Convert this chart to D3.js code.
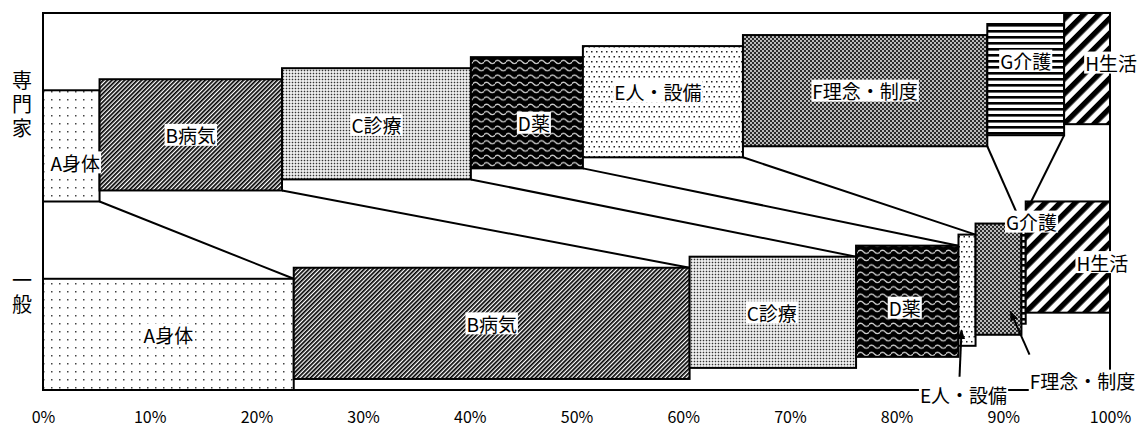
<!DOCTYPE html>
<html>
<head>
<meta charset="utf-8">
<script src="https://cdn.jsdelivr.net/npm/d3@7"></script>
<style>
  html, body { margin: 0; padding: 0; background: #fff; }
  svg { display: block; }
  text { font-family: "Noto Sans CJK JP", "Noto Sans", sans-serif; fill: #000; }
</style>
</head>
<body>
<svg id="chart" width="1140" height="427"></svg>
<script>
// ---- data -------------------------------------------------------------
const categories   = ["A身体", "B病気", "C診療", "D薬", "E人・設備", "F理念・制度", "G介護", "H生活"];
const groups       = ["専門家", "一般"];
const expertShares = [5.3, 17.1, 17.7, 10.5, 15.0, 22.9, 7.2, 4.3];   // %
const publicShares = [23.5, 37.1, 15.6, 9.6, 1.6, 4.3, 0.4, 7.9];     // %
const tickValues   = [0, 10, 20, 30, 40, 50, 60, 70, 80, 90, 100];

// ---- layout -----------------------------------------------------------
const x = d3.scaleLinear().domain([0, 100]).range([43, 1110]);
const y = d3.scaleLinear().domain([0, 100]).range([390, 13]);
const BAR = 29.5;          // block height (y units)
const STEP = 2.93;         // each successive block sits a little higher
const rowBase = { "専門家": 50, "一般": 0 };

// label nudges in px from the block centre (null = drawn as a callout)
const labelNudge = {
  "専門家": [[4, 16.5], [0, 0], [0, 1], [7, 10], [-5, -10], [0, 0], [0, -19], [24, -6]],
  "一般":   [[0, 0], [0, 0], [-1, 0], [-2.5, 6.5], null, null, [8, -46.5], [34.5, 5]]
};
// callouts for the two thin blocks of 一般 (offsets from block centre)
const callouts = {
  4: { label: [-3.5, 104.5], from: [-7.5, 86.5], to: [-5.5, 40] },
  5: { label: [84, 101.5], from: [31, 75.5], to: [12, 32.5] }
};

const svg = d3.select("#chart");
const defs = svg.append("defs");

// ---- fill patterns ----------------------------------------------------
function stripes(id, period, black, angle) {
  const p = defs.append("pattern").attr("id", id)
    .attr("patternUnits", "userSpaceOnUse")
    .attr("width", period).attr("height", period)
    .attr("patternTransform", `rotate(${angle})`);
  p.append("rect").attr("width", period).attr("height", period).attr("fill", "#fff");
  p.append("rect").attr("width", black).attr("height", period).attr("fill", "#000");
}
function dots(id, w, h, pts, size, color, bg) {
  const p = defs.append("pattern").attr("id", id)
    .attr("patternUnits", "userSpaceOnUse").attr("width", w).attr("height", h);
  p.append("rect").attr("width", w).attr("height", h).attr("fill", bg);
  pts.forEach(([px, py]) => p.append("rect")
    .attr("x", px).attr("y", py).attr("width", size).attr("height", size).attr("fill", color));
}

dots("pat0", 8, 8, [[3, 3]], 1.5, "#444", "#fff");                              // sparse dots
stripes("pat1", 3.0, 1.7, 45);                                                  // dense diagonal
dots("pat2", 3, 3, [[0.7, 0.7]], 1.6, "#333", "#fff");                          // fine dots
(function () {                                                                  // wave
  const p = defs.append("pattern").attr("id", "pat3")
    .attr("patternUnits", "userSpaceOnUse").attr("width", 11).attr("height", 7.3);
  p.append("rect").attr("width", 11).attr("height", 7.3).attr("fill", "#000");
  p.append("path").attr("d", "M-0.5,3.6 Q2.75,0.6 5.5,3.6 T11.5,3.6")
    .attr("fill", "none").attr("stroke", "#d0d0d0").attr("stroke-width", 1.3);
})();
dots("pat4", 10, 10, [[1, 1], [6, 1], [3.5, 6], [8.5, 6]], 1.5, "#222", "#fff"); // medium dots
(function () {                                                                  // dark diamond grid
  const p = defs.append("pattern").attr("id", "pat5")
    .attr("patternUnits", "userSpaceOnUse").attr("width", 4).attr("height", 4);
  p.append("rect").attr("width", 4).attr("height", 4).attr("fill", "#2a2a2a");
  p.append("circle").attr("cx", 1).attr("cy", 1).attr("r", 0.9).attr("fill", "#fff");
  p.append("circle").attr("cx", 3).attr("cy", 3).attr("r", 0.9).attr("fill", "#fff");
})();
stripes("pat6", 6, 2.6, 90);                                                    // horizontal bars
stripes("pat7", 10.6, 5.4, 45);                                                 // wide diagonal

defs.append("marker").attr("id", "arrow")
  .attr("viewBox", "0 0 10 8").attr("refX", 9).attr("refY", 4)
  .attr("markerWidth", 5).attr("markerHeight", 4)
  .attr("orient", "auto")
  .append("path").attr("d", "M0,0L10,4L0,8z").attr("fill", "#000");

// ---- blocks -----------------------------------------------------------
const blocks = [];
groups.forEach(g => {
  const vals = g === "専門家" ? expertShares : publicShares;
  let cum = 0;
  vals.forEach((v, i) => {
    const lift = rowBase[g] + i * STEP;
    blocks.push({ group: g, i, cat: categories[i], x0: cum, x1: cum + v, y0: lift, y1: lift + BAR });
    cum += v;
  });
});
const block = (g, i) => blocks.find(b => b.group === g && b.i === i);

// connectors between the matching block edges of the two rows
svg.append("g").selectAll("line")
  .data(categories.map((c, i) => [block("専門家", i), block("一般", i)]))
  .join("line")
  .attr("x1", d => x(d[0].x1)).attr("y1", d => y(d[0].y0))
  .attr("x2", d => x(d[1].x1)).attr("y2", d => y(d[1].y1))
  .attr("stroke", "#000").attr("stroke-width", 2);

svg.append("g").selectAll("rect")
  .data(blocks)
  .join("rect")
  .attr("x", d => x(d.x0)).attr("y", d => y(d.y1))
  .attr("width", d => x(d.x1) - x(d.x0))
  .attr("height", d => y(d.y0) - y(d.y1))
  .attr("fill", d => `url(#pat${d.i})`)
  .attr("stroke", "#000").attr("stroke-width", 2);

// plot frame
svg.append("rect")
  .attr("x", x(0)).attr("y", y(100))
  .attr("width", x(100) - x(0)).attr("height", y(0) - y(100))
  .attr("fill", "none").attr("stroke", "#000").attr("stroke-width", 2);

// x axis labels
const axis = svg.append("g").attr("transform", `translate(0,${y(0)})`)
  .call(d3.axisBottom(x).tickValues(tickValues).tickFormat(d => d + "%").tickSize(0).tickPadding(22));
axis.select(".domain").remove();
axis.selectAll("text").attr("font-size", 16)
  .attr("font-family", "\"Noto Sans CJK JP\", \"Noto Sans\", sans-serif").attr("fill", "#000");

// row labels, written vertically
groups.forEach(g => {
  const top = y(rowBase[g] + 7 * STEP + BAR), bottom = y(rowBase[g]);
  const mid = (top + bottom) / 2 - 1;
  svg.append("text")
    .attr("x", 22).attr("y", mid)
    .attr("text-anchor", "middle")
    .attr("font-size", 20)
    .style("writing-mode", "vertical-rl")
    .style("text-orientation", "upright")
    .style("letter-spacing", "4px")
    .text(g);
});

// block labels on white boxes
const labelLayer = svg.append("g");
function addLabel(cx, cy, text) {
  const g = labelLayer.append("g");
  const bg = g.append("rect").attr("fill", "#fff");
  const t = g.append("text").attr("x", cx).attr("y", cy)
    .attr("text-anchor", "middle").attr("dominant-baseline", "central")
    .attr("font-size", 19).text(text);
  const bb = t.node().getBBox();
  bg.attr("x", bb.x - 1).attr("y", cy - 11).attr("width", bb.width + 2).attr("height", 22);
}

blocks.forEach(b => {
  const cx = (x(b.x0) + x(b.x1)) / 2, cy = (y(b.y0) + y(b.y1)) / 2;
  const n = labelNudge[b.group][b.i];
  if (n) {
    addLabel(cx + n[0], cy + n[1], b.cat);
  } else {
    const c = callouts[b.i];
    svg.append("line")
      .attr("x1", cx + c.from[0]).attr("y1", cy + c.from[1])
      .attr("x2", cx + c.to[0]).attr("y2", cy + c.to[1])
      .attr("stroke", "#000").attr("stroke-width", 2)
      .attr("marker-end", "url(#arrow)");
    addLabel(cx + c.label[0], cy + c.label[1], b.cat);
  }
});
labelLayer.raise();
</script>
</body>
</html>
